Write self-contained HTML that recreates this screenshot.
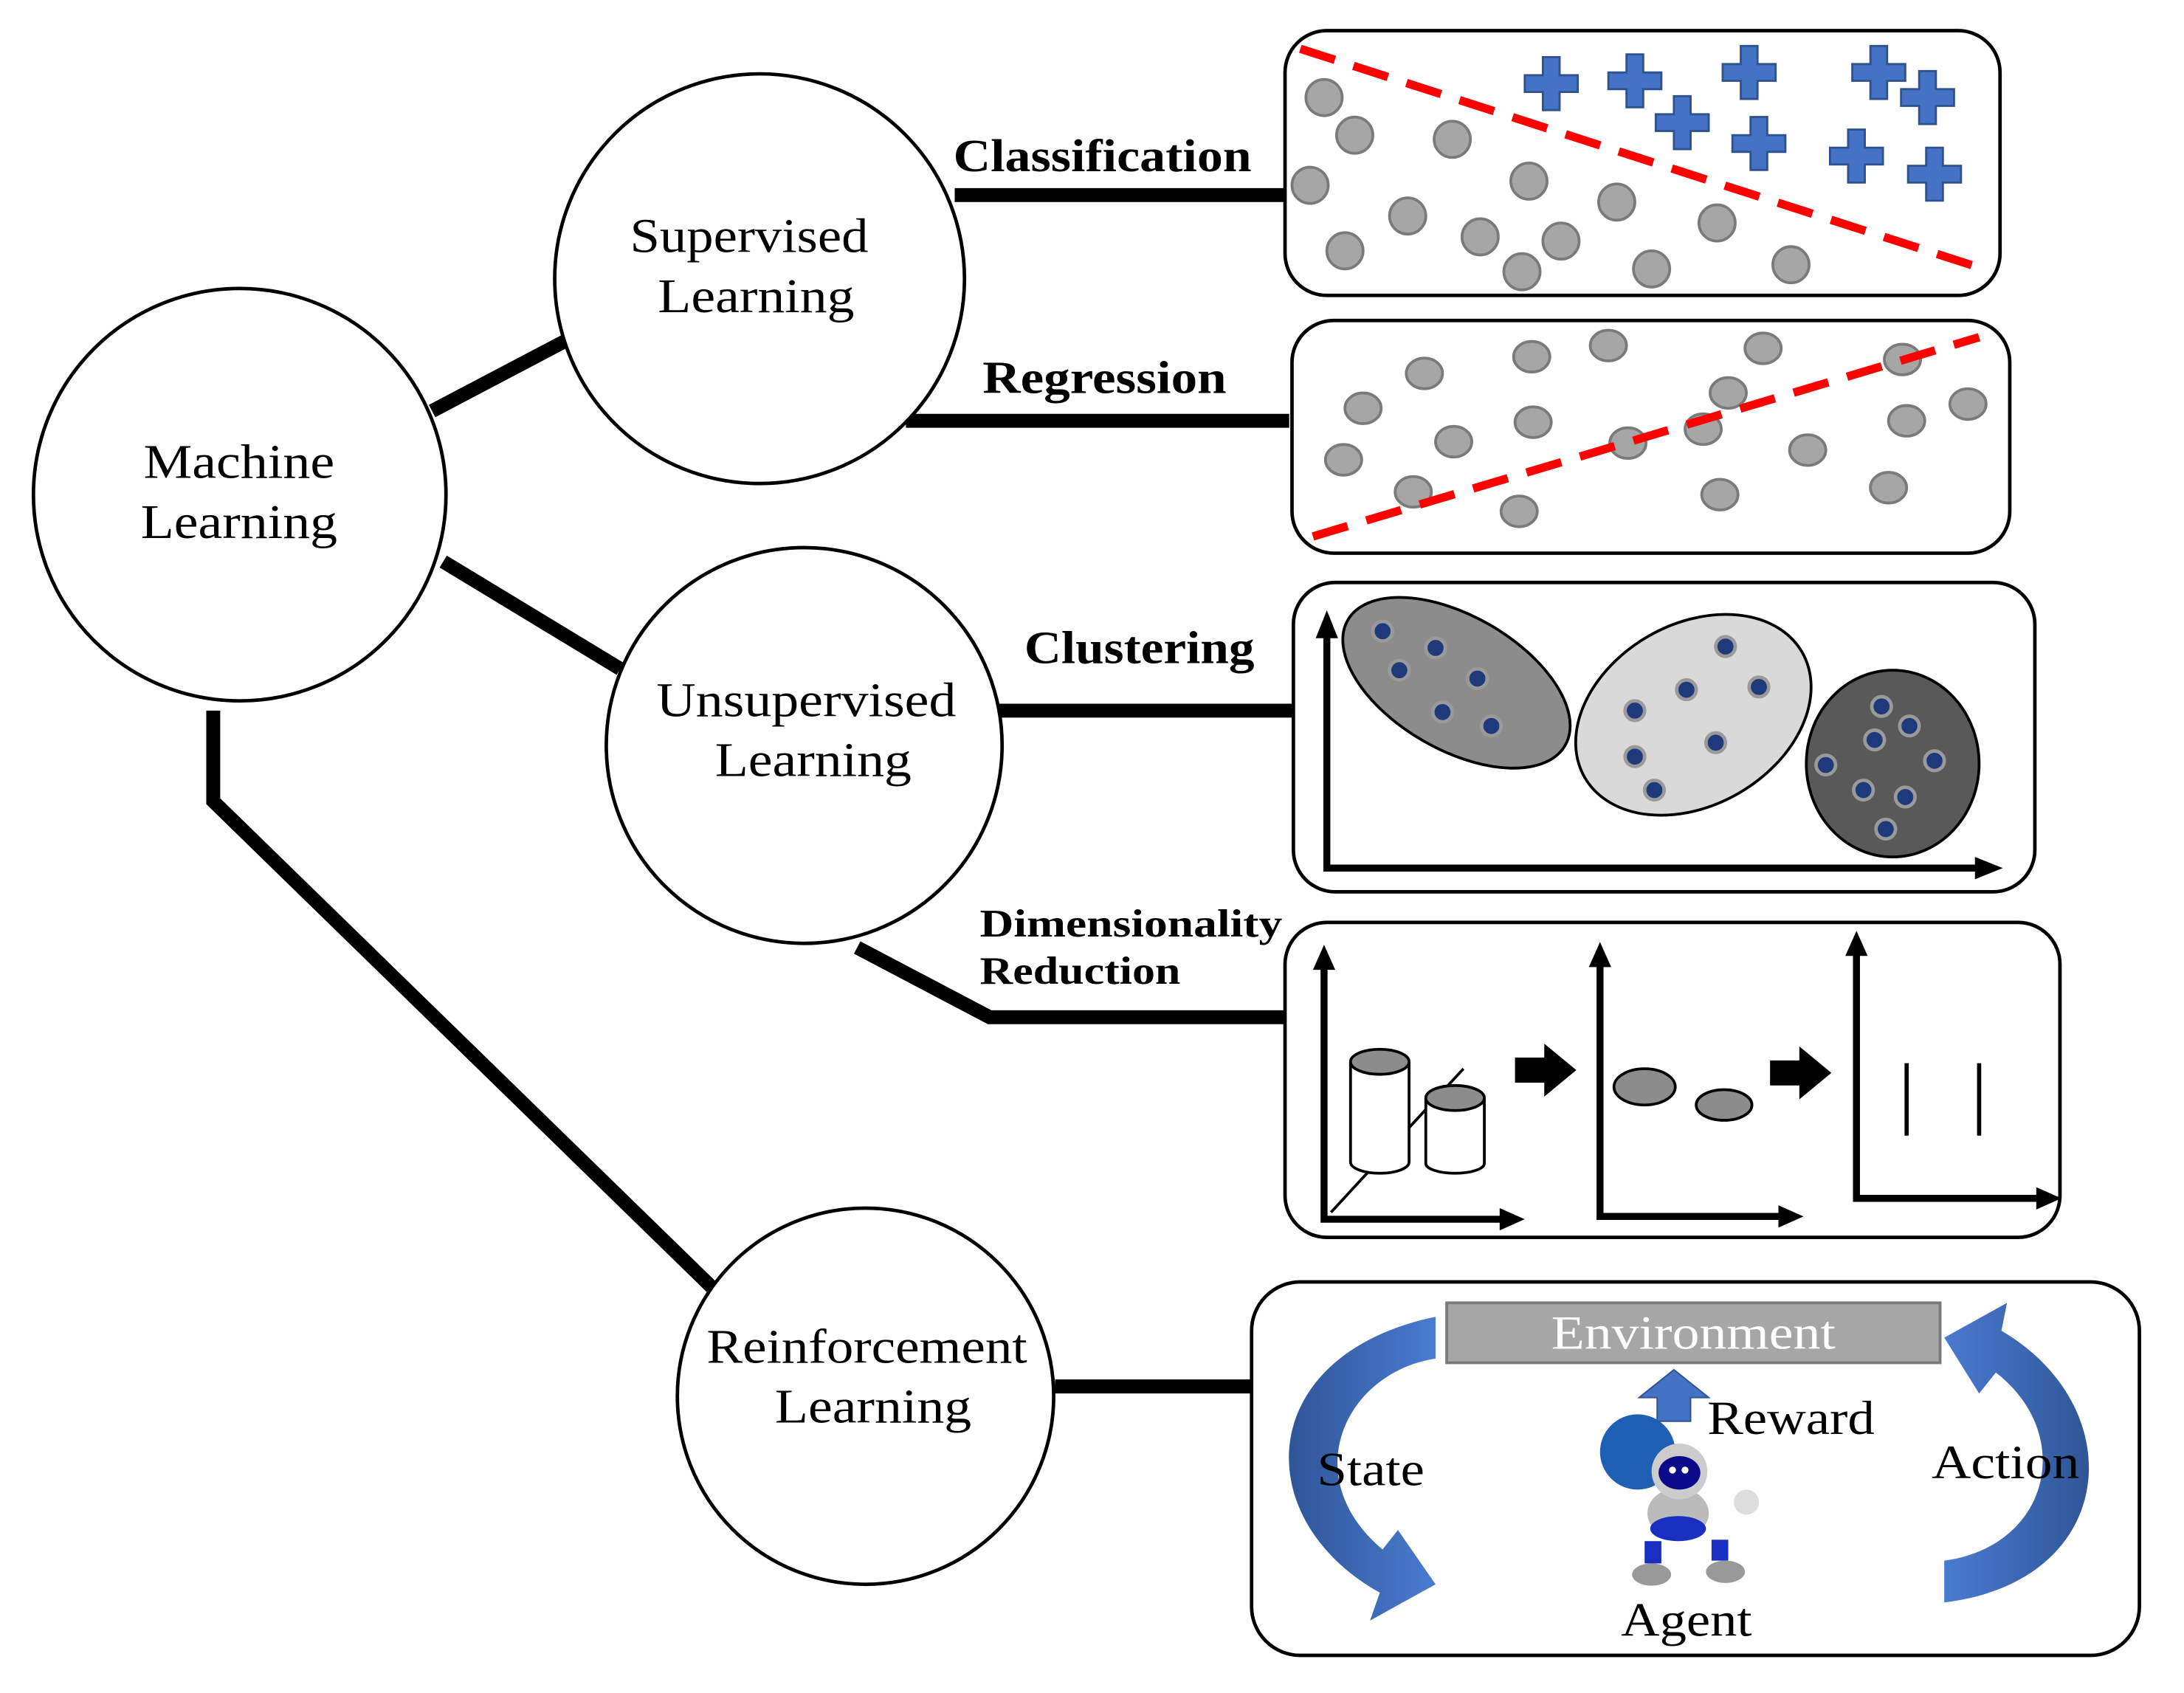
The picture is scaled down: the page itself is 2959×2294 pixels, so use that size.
<!DOCTYPE html>
<html><head><meta charset="utf-8"><style>
html,body{margin:0;padding:0;background:#fff}
svg{display:block}
text{font-family:"Liberation Serif",serif}
</style></head><body>
<svg width="2959" height="2294" viewBox="0 0 1567 1215" preserveAspectRatio="none" xmlns="http://www.w3.org/2000/svg">
<defs>
<linearGradient id="bl" x1="0" y1="0" x2="1" y2="0"><stop offset="0" stop-color="#2f5597"/><stop offset="1" stop-color="#4a7bd0"/></linearGradient>
<linearGradient id="br" x1="1" y1="0" x2="0" y2="0"><stop offset="0" stop-color="#2f5597"/><stop offset="1" stop-color="#4a7bd0"/></linearGradient>
</defs>
<g stroke="#000" stroke-width="10" fill="none">
<line x1="310" y1="295" x2="405" y2="245"/>
<line x1="318" y1="403" x2="445" y2="480"/>
<polyline points="153,510 153,575 515,928"/>
<line x1="685" y1="140" x2="922" y2="140"/>
<line x1="650" y1="302" x2="925" y2="302"/>
<line x1="716" y1="510" x2="930" y2="510"/>
<polyline points="615,680 710,730 922,730"/>
<line x1="757" y1="995" x2="900" y2="995"/>
</g>
<g fill="#fff" stroke="#000" stroke-width="2.5">
<circle cx="172" cy="355" r="148"/>
<circle cx="545" cy="200" r="147"/>
<circle cx="577" cy="535" r="142"/>
<circle cx="621" cy="1002" r="135"/>
</g>
<g font-size="35" lengthAdjust="spacingAndGlyphs">
<text x="103" y="343" textLength="137" lengthAdjust="spacingAndGlyphs">Machine</text><text x="101" y="386" textLength="141" lengthAdjust="spacingAndGlyphs">Learning</text>
<text x="452" y="181" textLength="171" lengthAdjust="spacingAndGlyphs">Supervised</text><text x="472" y="224" textLength="141" lengthAdjust="spacingAndGlyphs">Learning</text>
<text x="471" y="514" textLength="215" lengthAdjust="spacingAndGlyphs">Unsupervised</text><text x="513" y="557" textLength="141" lengthAdjust="spacingAndGlyphs">Learning</text>
<text x="507" y="978" textLength="230" lengthAdjust="spacingAndGlyphs">Reinforcement</text><text x="556" y="1021" textLength="141" lengthAdjust="spacingAndGlyphs">Learning</text>
</g>
<g font-size="33" font-weight="bold">
<text x="684" y="123" textLength="214" lengthAdjust="spacingAndGlyphs">Classification</text>
<text x="705" y="282" textLength="175" lengthAdjust="spacingAndGlyphs">Regression</text>
<text x="735" y="476" textLength="165" lengthAdjust="spacingAndGlyphs">Clustering</text>
<text x="703" y="672" font-size="28" textLength="217" lengthAdjust="spacingAndGlyphs">Dimensionality</text>
<text x="703" y="706" font-size="28" textLength="144" lengthAdjust="spacingAndGlyphs">Reduction</text>
</g>
<g fill="#fff" stroke="#000" stroke-width="2.5">
<rect x="922" y="22" width="513" height="190" rx="30"/>
<rect x="927" y="230" width="515" height="167" rx="30"/>
<rect x="928" y="418" width="532" height="222" rx="30"/>
<rect x="922" y="662" width="556" height="226" rx="30"/>
<rect x="898" y="920" width="637" height="268" rx="35"/>
</g>
<g fill="#a6a6a6" stroke="#7a7a7a" stroke-width="2">
<circle cx="950" cy="70" r="13"/><circle cx="972" cy="97" r="13"/><circle cx="1042" cy="100" r="13"/><circle cx="940" cy="133" r="13"/><circle cx="1097" cy="130" r="13"/><circle cx="1010" cy="155" r="13"/><circle cx="1062" cy="170" r="13"/><circle cx="1160" cy="145" r="13"/><circle cx="1232" cy="160" r="13"/><circle cx="965" cy="180" r="13"/><circle cx="1120" cy="173" r="13"/><circle cx="1092" cy="195" r="13"/><circle cx="1185" cy="193" r="13"/><circle cx="1285" cy="190" r="13"/>
</g>
<g fill="#4472c4" stroke="#2f528f" stroke-width="1.5">
<path id="cr" d="M-6,-19h12v13h13v12h-13v13h-12v-13h-13v-12h13z" transform="translate(1113,60)"/>
<use href="#cr" transform="translate(60,-2)"/><use href="#cr" transform="translate(142,-8)"/><use href="#cr" transform="translate(235,-8)"/><use href="#cr" transform="translate(270,10)"/><use href="#cr" transform="translate(94,28)"/><use href="#cr" transform="translate(149,43)"/><use href="#cr" transform="translate(219,52)"/><use href="#cr" transform="translate(275,65)"/>
</g>
<line x1="933" y1="35" x2="1420" y2="192" stroke="#ff0000" stroke-width="6" stroke-dasharray="26,14"/>
<g fill="#a6a6a6" stroke="#7a7a7a" stroke-width="2">
<ellipse cx="1022" cy="268" rx="13" ry="11"/><ellipse cx="1099" cy="256" rx="13" ry="11"/><ellipse cx="1154" cy="248" rx="13" ry="11"/><ellipse cx="1265" cy="250" rx="13" ry="11"/><ellipse cx="1365" cy="258" rx="13" ry="11"/><ellipse cx="978" cy="293" rx="13" ry="11"/><ellipse cx="1240" cy="282" rx="13" ry="11"/><ellipse cx="1100" cy="303" rx="13" ry="11"/><ellipse cx="1043" cy="317" rx="13" ry="11"/><ellipse cx="1168" cy="318" rx="13" ry="11"/><ellipse cx="1222" cy="308" rx="13" ry="11"/><ellipse cx="1297" cy="323" rx="13" ry="11"/><ellipse cx="1368" cy="302" rx="13" ry="11"/><ellipse cx="1412" cy="290" rx="13" ry="11"/><ellipse cx="964" cy="330" rx="13" ry="11"/><ellipse cx="1014" cy="353" rx="13" ry="11"/><ellipse cx="1090" cy="367" rx="13" ry="11"/><ellipse cx="1234" cy="355" rx="13" ry="11"/><ellipse cx="1355" cy="350" rx="13" ry="11"/>
</g>
<line x1="942" y1="385" x2="1420" y2="242" stroke="#ff0000" stroke-width="6" stroke-dasharray="26,14"/>
<g stroke="#000" stroke-width="5" fill="none"><polyline points="952,445 952,623 1425,623"/></g>
<polygon points="952,438 944,458 960,458"/><polygon points="1437,623 1417,615 1417,631"/>
<ellipse cx="1045" cy="490" rx="90" ry="48" transform="rotate(30 1045 490)" fill="#8c8c8c" stroke="#000" stroke-width="2"/>
<ellipse cx="1215" cy="513" rx="90" ry="65" transform="rotate(-30 1215 513)" fill="#d9d9d9" stroke="#000" stroke-width="2"/>
<ellipse cx="1358" cy="548" rx="62" ry="67" fill="#595959" stroke="#000" stroke-width="2"/>
<g fill="#1f3a7a" stroke="#9a9a9a" stroke-width="2.5">
<circle cx="992" cy="453" r="7"/><circle cx="1030" cy="465" r="7"/><circle cx="1004" cy="481" r="7"/><circle cx="1060" cy="487" r="7"/><circle cx="1035" cy="511" r="7"/><circle cx="1070" cy="521" r="7"/>
<circle cx="1238" cy="464" r="7"/><circle cx="1210" cy="495" r="7"/><circle cx="1262" cy="493" r="7"/><circle cx="1173" cy="510" r="7"/><circle cx="1231" cy="533" r="7"/><circle cx="1173" cy="543" r="7"/><circle cx="1187" cy="567" r="7"/>
<circle cx="1350" cy="507" r="7"/><circle cx="1370" cy="521" r="7"/><circle cx="1345" cy="531" r="7"/><circle cx="1310" cy="549" r="7"/><circle cx="1388" cy="546" r="7"/><circle cx="1337" cy="567" r="7"/><circle cx="1367" cy="572" r="7"/><circle cx="1353" cy="595" r="7"/>
</g>
<g stroke="#000" stroke-width="5" fill="none">
<polyline points="950,688 950,875 1082,875"/>
<polyline points="1148,686 1148,873 1282,873"/>
<polyline points="1332,678 1332,860 1467,860"/>
</g>
<polygon points="950,678 942,696 958,696"/><polygon points="1094,875 1076,867 1076,883"/>
<polygon points="1148,676 1140,694 1156,694"/><polygon points="1294,873 1276,865 1276,881"/>
<polygon points="1332,668 1324,686 1340,686"/><polygon points="1479,860 1461,852 1461,868"/>
<line x1="955" y1="870" x2="1050" y2="767" stroke="#000" stroke-width="2"/>
<g stroke="#000" stroke-width="2">
<path d="M969,762 v72 a21,8 0 0 0 42,0 v-72" fill="#fff"/><ellipse cx="990" cy="762" rx="21" ry="9" fill="#8c8c8c"/>
<path d="M1023,788 v47 a21,7 0 0 0 42,0 v-47" fill="#fff"/><ellipse cx="1044" cy="788" rx="21" ry="9" fill="#8c8c8c"/>
<ellipse cx="1180" cy="780" rx="22" ry="13" fill="#8c8c8c"/><ellipse cx="1237" cy="793" rx="20" ry="11" fill="#8c8c8c"/>
</g>
<polygon points="1087,759 1108,759 1108,749 1131,768 1108,787 1108,777 1087,777"/>
<polygon points="1270,761 1291,761 1291,751 1314,770 1291,789 1291,779 1270,779"/>
<line x1="1368" y1="763" x2="1368" y2="815" stroke="#000" stroke-width="3"/>
<line x1="1420" y1="763" x2="1420" y2="815" stroke="#000" stroke-width="3"/>
<rect x="1038" y="935" width="354" height="43" fill="#a6a6a6" stroke="#7a7a7a" stroke-width="2"/>
<text x="1113" y="968" font-size="34" fill="#fff" textLength="204" lengthAdjust="spacingAndGlyphs">Environment</text>
<path d="M1030,945 L1030,975 C965,985 930,1060 992,1112 L1003,1098 L1030,1137 L983,1163 L990,1143 C895,1090 900,972 1030,945 Z" fill="url(#bl)"/>
<path d="M1395,1150 L1395,1120 C1470,1110 1490,1030 1432,985 L1420,1000 L1395,960 L1440,935 L1436,955 C1530,1010 1520,1135 1395,1150 Z" fill="url(#br)"/>
<polygon points="1176,1003 1201,983 1226,1003 1213,1003 1213,1020 1189,1020 1189,1003" fill="#4472c4" stroke="#2f528f"/>
<g font-size="34">
<text x="945" y="1066" textLength="77" lengthAdjust="spacingAndGlyphs">State</text>
<text x="1386" y="1061" textLength="106" lengthAdjust="spacingAndGlyphs">Action</text>
<text x="1225" y="1029" textLength="120" lengthAdjust="spacingAndGlyphs">Reward</text>
<text x="1163" y="1174" textLength="94" lengthAdjust="spacingAndGlyphs">Agent</text>
</g>
<circle cx="1175" cy="1042" r="27" fill="#1f5fb4"/>
<ellipse cx="1204" cy="1086" rx="22" ry="18" fill="#bbb"/>
<ellipse cx="1204" cy="1097" rx="20" ry="9" fill="#1a2fc0"/>
<circle cx="1205" cy="1056" r="20" fill="#ccc"/>
<ellipse cx="1205" cy="1057" rx="15" ry="12" fill="#0a0a8a"/>
<circle cx="1200" cy="1055" r="2.5" fill="#fff"/><circle cx="1209" cy="1055" r="2.5" fill="#fff"/>
<ellipse cx="1185" cy="1130" rx="14" ry="8" fill="#999"/><ellipse cx="1238" cy="1128" rx="14" ry="8" fill="#999"/>
<rect x="1180" y="1106" width="12" height="16" fill="#1a2fc0"/><rect x="1228" y="1105" width="12" height="15" fill="#1a2fc0"/>
<circle cx="1253" cy="1078" r="9" fill="#ddd"/>
</svg>
</body></html>
